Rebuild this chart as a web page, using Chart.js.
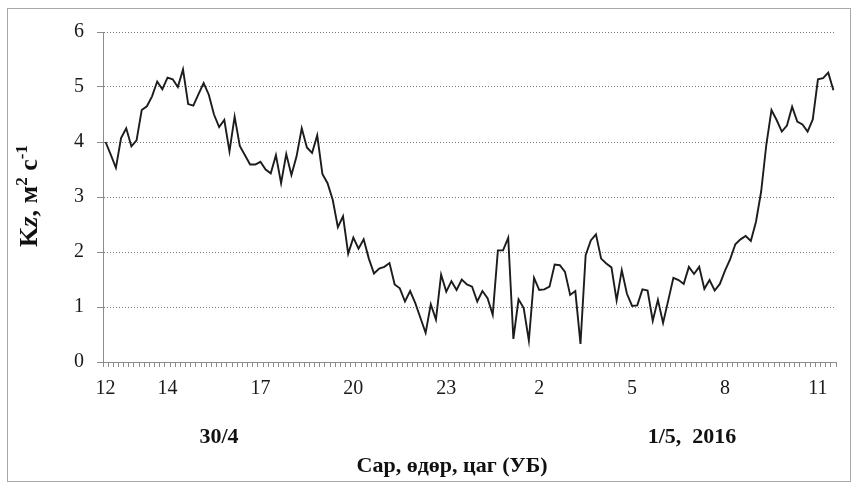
<!DOCTYPE html>
<html>
<head>
<meta charset="utf-8">
<script src="https://cdn.jsdelivr.net/npm/chart.js@4.4.1/dist/chart.umd.min.js"></script>
<style>
  html, body { margin: 0; padding: 0; background: #fff; }
  canvas { display: block; }
</style>
</head>
<body>
<canvas id="kz" width="858" height="488"></canvas>
<script>
// Vertical turbulent diffusion coefficient Kz (m2/s), 10-minute values,
// 30/4 12:00 to 1/5 11:30, 2016 (Ulaanbaatar time)
const kzValues = [
  4.00, 3.77, 3.53, 4.07, 4.25, 3.92, 4.03, 4.58, 4.65, 4.83,
  5.10, 4.96, 5.17, 5.14, 5.00, 5.32, 4.69, 4.66, 4.87, 5.07,
  4.86, 4.50, 4.27, 4.40, 3.83, 4.46, 3.93, 3.76, 3.59, 3.59,
  3.64, 3.50, 3.43, 3.76, 3.25, 3.78, 3.40, 3.74, 4.25, 3.90,
  3.80, 4.12, 3.42, 3.25, 2.95, 2.45, 2.65, 1.97, 2.26, 2.06,
  2.23, 1.88, 1.61, 1.70, 1.73, 1.80, 1.41, 1.34, 1.10, 1.29,
  1.07, 0.80, 0.53, 1.05, 0.77, 1.59, 1.28, 1.47, 1.31, 1.50,
  1.41, 1.37, 1.10, 1.29, 1.16, 0.86, 2.03, 2.03, 2.26, 0.42,
  1.14, 0.98, 0.39, 1.53, 1.31, 1.32, 1.37, 1.77, 1.76, 1.64,
  1.22, 1.29, 0.33, 1.94, 2.21, 2.32, 1.88, 1.79, 1.72, 1.12,
  1.67, 1.24, 1.02, 1.03, 1.32, 1.30, 0.75, 1.13, 0.71, 1.12,
  1.53, 1.49, 1.42, 1.73, 1.60, 1.73, 1.33, 1.49, 1.30, 1.42,
  1.66, 1.87, 2.14, 2.23, 2.29, 2.20, 2.55, 3.10, 3.95, 4.58,
  4.40, 4.19, 4.30, 4.64, 4.37, 4.32, 4.19, 4.41, 5.14, 5.16,
  5.26, 4.94
];

// time stamps every 10 minutes starting at 12:00
const startMinutes = 12 * 60;
const stepMinutes = 10;
const categories = kzValues.map((_, k) => {
  const m = startMinutes + k * stepMinutes;
  const h = Math.floor(m / 60) % 24;
  const mm = m % 60;
  return String(h).padStart(2, '0') + ':' + String(mm).padStart(2, '0');
});

// hours that carry a label on the time axis
const hourTicks = ['12', '14', '17', '20', '23', '2', '5', '8', '11'];
const yTicks = [0, 1, 2, 3, 4, 5, 6];
const dayLabels = ['30/4', '1/5,  2016'];
const xTitle = 'Сар, өдөр, цаг (УБ)';
// y title pieces: text, italic, superscript
const yTitleRuns = [
  ['K', false, false], ['z', true, false], [', м', false, false],
  ['2', false, true], [' с', false, false], ['-1', false, true]
];

const serif = '"Liberation Serif", "Times New Roman", serif';
const axisGray = '#8c8c8c';

const decorations = {
  id: 'decorations',
  afterDraw(chart) {
    const ctx = chart.ctx;
    ctx.save();
    // outer frame
    ctx.strokeStyle = '#a8a8a8';
    ctx.lineWidth = 1;
    ctx.strokeRect(7.5, 8.5, 843, 473);

    ctx.fillStyle = '#111';
    ctx.textAlign = 'center';
    ctx.textBaseline = 'middle';
    ctx.font = 'bold 22px ' + serif;
    ctx.fillText(dayLabels[0], 219, 437);
    ctx.fillText(dayLabels[1], 692, 437);
    ctx.fillText(xTitle, 452, 466);

    // rotated y-axis title with superscripts
    ctx.translate(30, 196);
    ctx.rotate(-Math.PI / 2);
    ctx.textAlign = 'left';
    ctx.textBaseline = 'alphabetic';
    const fontFor = (it, sup) => (it ? 'italic ' : '') + 'bold ' + (sup ? '17px ' : '26px ') + serif;
    let total = 0;
    yTitleRuns.forEach(([t, it, sup]) => { ctx.font = fontFor(it, sup); total += ctx.measureText(t).width; });
    let x = -total / 2;
    yTitleRuns.forEach(([t, it, sup]) => {
      ctx.font = fontFor(it, sup);
      ctx.fillText(t, x, sup ? -3 : 7);
      x += ctx.measureText(t).width;
    });
    ctx.restore();
  }
};

new Chart(document.getElementById('kz'), {
  type: 'line',
  data: {
    labels: categories,
    datasets: [{
      data: kzValues,
      borderColor: '#1c1c1c',
      borderWidth: 1.9,
      pointRadius: 0,
      tension: 0,
      fill: false
    }]
  },
  options: {
    responsive: false,
    devicePixelRatio: 1,
    animation: false,
    events: [],
    layout: { padding: { left: 0, top: 32, right: 22, bottom: 0 } },
    plugins: { legend: { display: false }, tooltip: { enabled: false }, title: { display: false } },
    scales: {
      x: {
        type: 'category',
        offset: true,
        afterFit(s) { s.height = 126; },
        grid: {
          offset: true,
          drawOnChartArea: false,
          drawTicks: true,
          tickLength: 5,
          color: axisGray,
          lineWidth: 1
        },
        border: { display: true, color: axisGray, width: 1 },
        ticks: {
          autoSkip: false,
          maxRotation: 0,
          minRotation: 0,
          padding: 10,
          color: '#1a1a1a',
          font: { family: serif, size: 20 },
          callback(value, index) {
            const [h, mm] = categories[index].split(':');
            const hr = String(Number(h));
            return (mm === '00' && hourTicks.includes(hr)) ? hr : '';
          }
        }
      },
      y: {
        min: yTicks[0],
        max: yTicks[yTicks.length - 1],
        afterFit(s) { s.width = 103; },
        afterBuildTicks(s) { s.ticks = yTicks.map(v => ({ value: v })); },
        grid: {
          color: '#7a7a7a',
          lineWidth: 1,
          drawTicks: true,
          tickLength: 6,
          tickColor: axisGray,
          tickBorderDash: []
        },
        border: { display: true, color: axisGray, width: 1, dash: [1, 2] },
        ticks: {
          padding: 13,
          color: '#1a1a1a',
          font: { family: serif, size: 20 }
        }
      }
    }
  },
  plugins: [decorations]
});
</script>
</body>
</html>
